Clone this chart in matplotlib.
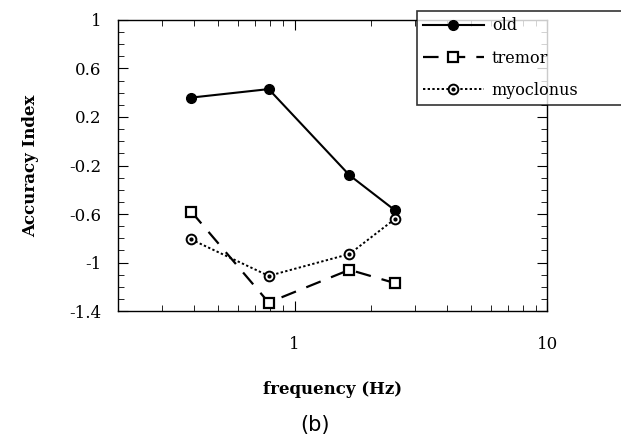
import numpy as np
import matplotlib
matplotlib.use("Agg")
import matplotlib.pyplot as plt
from matplotlib.ticker import MultipleLocator, FixedLocator, NullFormatter
from matplotlib.legend_handler import HandlerTuple

# data
freq = [0.39, 0.79, 1.65, 2.5]
old = [0.36, 0.43, -0.28, -0.57]
tremor = [-0.58, -1.33, -1.06, -1.17]
myoclonus = [-0.81, -1.11, -0.93, -0.64]

plt.rcParams['font.family'] = ['DejaVu Serif']

fig = plt.figure(figsize=(6.21, 4.44), dpi=100)
ax = fig.add_axes([0.190, 0.2995, 0.691, 0.6555])

h_old, = ax.plot(freq, old, color='black', linewidth=1.5, marker='o', markersize=7)
h_tre, = ax.plot(freq, tremor, color='black', linewidth=1.6, linestyle=(0, (7, 5)),
                 marker='s', markersize=7, markerfacecolor='white', markeredgewidth=1.6)
h_myo, = ax.plot(freq, myoclonus, color='black', linewidth=1.4, linestyle=(0, (1.2, 1.2)),
                 marker='o', markersize=7, markerfacecolor='white', markeredgewidth=1.4)
h_dot, = ax.plot(freq, myoclonus, linestyle='none', marker='o', markersize=2, color='black')

ax.set_xscale('log')
ax.set_xlim(0.2, 10)
ax.set_ylim(-1.4, 1)

ax.yaxis.set_minor_locator(MultipleLocator(0.1))
ax.set_yticks([1, 0.6, 0.2, -0.2, -0.6, -1, -1.4])
ax.set_yticklabels(['1', '0.6', '0.2', '-0.2', '-0.6', '-1', '-1.4'])
ax.xaxis.set_major_locator(FixedLocator([1, 10]))
ax.set_xticklabels(['1', '10'])
ax.xaxis.set_minor_locator(FixedLocator([0.2, 0.3, 0.4, 0.5, 0.6, 0.7, 0.8, 0.9,
                                         2, 3, 4, 5, 6, 7, 8, 9]))
ax.xaxis.set_minor_formatter(NullFormatter())

ax.tick_params(which='both', direction='in', top=True, right=True, labelsize=12)
ax.tick_params(which='major', length=7)
ax.tick_params(which='minor', length=4)
ax.tick_params(axis='x', pad=18)
ax.tick_params(axis='y', pad=12)
for s in ax.spines.values():
    s.set_linewidth(1.0)

ax.set_xlabel('frequency (Hz)', fontsize=12, fontweight='bold', labelpad=20)
ax.set_ylabel('Accuracy Index', fontsize=12, fontweight='bold', labelpad=22)

leg = fig.legend([h_old, h_tre, (h_myo, h_dot)], ['old', 'tremor', 'myoclonus'],
                 handler_map={tuple: HandlerTuple(ndivide=1)},
                 loc='upper left', bbox_to_anchor=(0.671, 0.757, 0.45, 0.218),
                 mode='expand', fontsize=11.5, frameon=True, fancybox=False,
                 handlelength=3.8, handletextpad=0.5, borderaxespad=0,
                 borderpad=0.4, labelspacing=0.95)
leg.get_frame().set_edgecolor('black')
leg.get_frame().set_linewidth(1.2)

fig.text(0.507, 0.03, '(b)', fontsize=15, family='DejaVu Sans', ha='center')

fig.savefig('out.png', dpi=100)
